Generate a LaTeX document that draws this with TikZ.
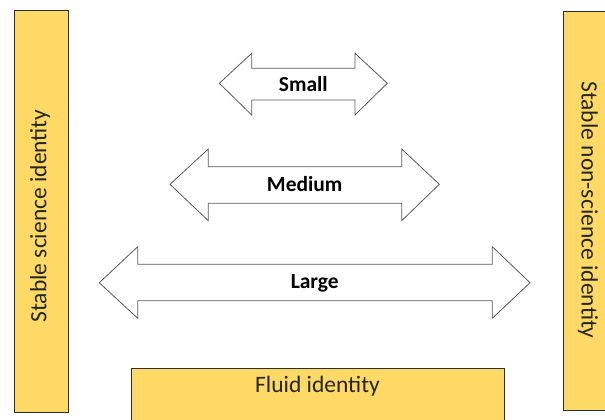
\documentclass[tikz,border=0pt]{standalone}
\usepackage{fontspec}
\setmainfont{Carlito}
\definecolor{boxfill}{HTML}{FFD966}
\definecolor{boxline}{HTML}{2E2E2E}
\definecolor{arrowline}{HTML}{5A5A5A}
\tikzset{
  idbox/.style={draw=boxline, fill=boxfill, line width=1pt},
  dblarrow/.style={draw=arrowline, fill=white, line width=0.8pt, line join=miter},
  arrowlabel/.style={font=\fontsize{21.5}{24}\selectfont\bfseries, text=black, inner sep=0pt},
  idlabel/.style={font=\fontsize{23.5}{27}\selectfont, text=black!85, inner sep=0pt}
}
% double-headed block arrow: #1 left tip x, #2 left notch x, #3 right notch x, #4 right tip x,
% #5 head top y, #6 shaft top y, #7 mid y, #8 shaft bottom y, #9 head bottom y
\newcommand{\blockarrow}[9]{%
  \draw[dblarrow] (#1,#7) -- (#2,#5) -- (#2,#6) -- (#3,#6) -- (#3,#5) -- (#4,#7)
    -- (#3,#9) -- (#3,#8) -- (#2,#8) -- (#2,#9) -- cycle;}
\begin{document}
\begin{tikzpicture}[x=1pt, y=-1pt]
  \useasboundingbox (0,0) rectangle (605,420);
  \clip (0,0) rectangle (605,420);

  % side and bottom identity boxes
  \draw[idbox] (14,11) rectangle (68,412);
  \node[idlabel, rotate=90] (sci) at (40,216) {Stable science identity};

  \draw[idbox] (563,12) rectangle (615,410);
  \node[idlabel, rotate=-90] (nonsci) at (588,210) {Stable non-science identity};

  \draw[idbox] (131,368) rectangle (504,430);
  \node[idlabel] (fluid) at (317.5,386) {Fluid identity};

  % range arrows
  \blockarrow{219.3}{251.7}{355}{387.3}{53.3}{68.3}{83.3}{100}{115}
  \node[arrowlabel] (small) at (303.3,84) {Small};

  \blockarrow{170}{208.3}{401.7}{439.3}{149}{166.7}{184.3}{203.3}{220.7}
  \node[arrowlabel] (medium) at (304.7,184.5) {Medium};

  \blockarrow{99.3}{137.7}{492.3}{530}{246.7}{264.3}{282.7}{300.7}{318.3}
  \node[arrowlabel] (large) at (314.7,283) {Large};
\end{tikzpicture}
\end{document}
